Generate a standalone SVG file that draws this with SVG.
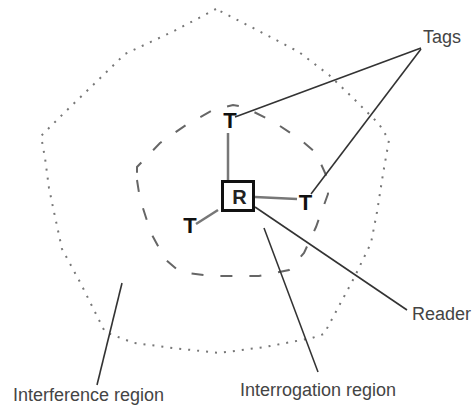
<svg xmlns="http://www.w3.org/2000/svg" width="476" height="410" viewBox="0 0 476 410">
<style>
.lbl{font-family:"Liberation Sans",Arial,sans-serif;font-size:18px;fill:#444}
.tag{font-family:"Liberation Sans",Arial,sans-serif;font-size:22px;font-weight:bold;fill:#111;text-anchor:middle}
.rd{font-family:"Liberation Sans",Arial,sans-serif;font-size:20px;font-weight:bold;fill:#222;text-anchor:middle}
.ptr{fill:none;stroke:#333;stroke-width:1.6}
.lnk{fill:none;stroke:#777;stroke-width:2.5}
</style>
<rect width="476" height="410" fill="#fff"/>
<g id="interference-region">
<path d="M216,9 L174,31 L125,54 L91,87 L64,113 L41,136 L45,158 L49,188 L54,212 L62,249 L81,284 L99,320 L105,332 L134,343 L173,348 L219,353 L265,347 L312,338 L324,334 L339,306 L354,278 L371,243 L377,212 L383,174 L389,140 L379,124 L352,97 L329,75 L299,52 L257,30 Z" fill="none" stroke="#777" stroke-width="2" stroke-dasharray="2 7"/>
</g>
<g id="interrogation-region">
<path d="M137,180 L140,199 L151,233 L165,259 L180,272 L212,276 L259,276 L289,270 L304,253 L316,227 L328,194 L326,175 L316,153 L301,140 L274,122 L244,107 L233,105 L213,110 L186,125 L160,143 L137,167 Z" fill="none" stroke="#666" stroke-width="2" stroke-dasharray="12 17"/>
</g>
<g id="connectors">
<line class="lnk" x1="228" y1="133" x2="228" y2="180"/>
<line class="lnk" x1="255" y1="197" x2="297" y2="199"/>
<line class="lnk" x1="218" y1="210" x2="196" y2="224"/>
<line class="ptr" x1="421" y1="48" x2="235" y2="117"/>
<line class="ptr" x1="421" y1="49" x2="311" y2="194"/>
<line class="ptr" x1="255" y1="207" x2="407" y2="310" stroke="#555"/>
<line class="ptr" x1="264" y1="228" x2="318" y2="372" stroke-width="2"/>
<line class="ptr" x1="122" y1="283" x2="97" y2="385" stroke="#555" stroke-width="2"/>
</g>
<g id="reader">
<rect x="222.5" y="181.5" width="31" height="29" fill="#fff" stroke="#111" stroke-width="3"/>
<text class="rd" x="239.5" y="204">R</text>
</g>
<g id="tag-top"><text class="tag" x="230" y="128">T</text></g>
<g id="tag-right"><text class="tag" x="305.5" y="210">T</text></g>
<g id="tag-left"><text class="tag" x="190" y="233">T</text></g>
<g id="label-tags"><text class="lbl" x="423" y="43">Tags</text></g>
<g id="label-reader"><text class="lbl" x="412" y="320">Reader</text></g>
<g id="label-interference"><text class="lbl" x="13" y="401">Interference region</text></g>
<g id="label-interrogation"><text class="lbl" x="240" y="396">Interrogation region</text></g>
</svg>
